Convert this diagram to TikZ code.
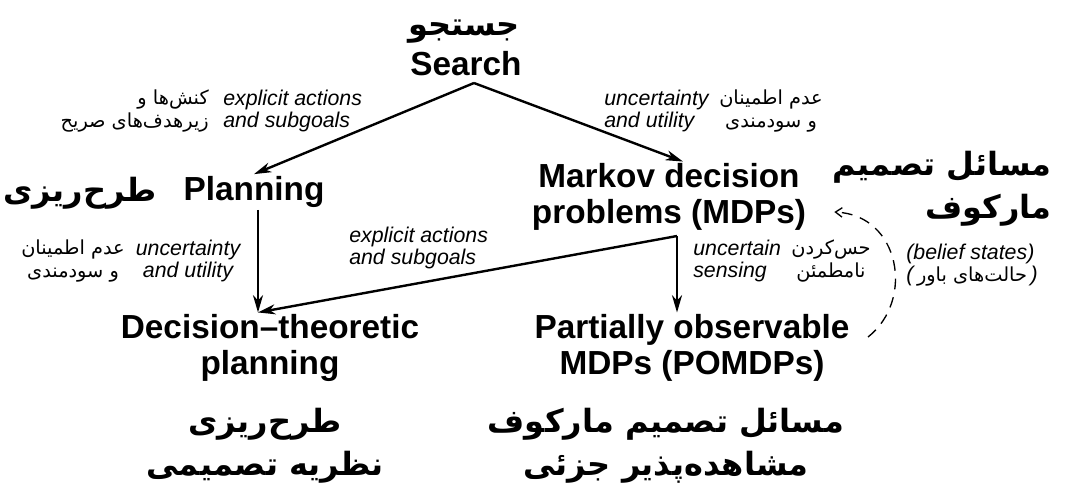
\documentclass[tikz,border=0pt]{standalone}
\usepackage{fontspec}
\setmainfont{Liberation Sans}
\newfontfamily\fa[Script=Arabic]{DejaVu Sans}
\TeXXeTstate=1
\usetikzlibrary{arrows.meta,calc}
\newcommand\farl[1]{\beginR#1\endR}
\begin{document}
\begin{tikzpicture}[x=0.75pt,y=-0.75pt,
  every node/.style={inner sep=1.5pt},
  title/.style={font=\fontsize{25}{26.5}\selectfont\bfseries, align=center},
  fatitle/.style={font=\fa\bfseries\fontsize{24}{32}\selectfont, align=center},
  lbl/.style={font=\itshape\fontsize{16}{16.5}\selectfont},
  falbl/.style={font=\fa\fontsize{14.5}{17}\selectfont},
  arr/.style={line width=1.8pt, -{Stealth[length=13pt,width=7.5pt,inset=4pt]}},
  fb/.style={line width=1pt, dash pattern=on 8pt off 6pt,
    -{Straight Barb[length=5pt,width=7pt]}}]
\useasboundingbox (0,0) rectangle (1066,490);

% top
\node[fatitle] (searchfa) at (464,32) {\farl{جستجو}};
\node[title] (search) at (466,64) {Search};

% edge labels, upper level
\node[lbl, anchor=west, align=left] (xa1) at (221,111) {explicit actions\\and subgoals};
\node[falbl, anchor=east, align=right] (xa1fa) at (211,111) {\farl{کنش‌ها و}\\\farl{زیرهدف‌های صریح}};
\node[lbl, anchor=west, align=left] (uu1) at (602,111) {uncertainty\\and utility};
\node[falbl, align=center] (uu1fa) at (771,111) {\farl{عدم اطمینان}\\\farl{و سودمندی}};

% middle level
\node[fatitle] (planfa) at (80,193) {\farl{طرح‌ریزی}};
\node[title] (plan) at (254,192) {Planning};
\node[title] (mdp) at (669,197) {Markov decision\\problems (MDPs)};
\node[fatitle, anchor=east, align=right] (mdpfa) at (1054,189) {\farl{مسائل تصمیم}\\\farl{مارکوف}};
\node[lbl, align=left] (belief) at (972,265)
  {(belief states)\\(\,{\fa\upshape\fontsize{14.5}{17}\selectfont\farl{حالت‌های باور}}\,)};

% edge labels, lower level
\node[lbl, align=center] (uu2) at (188,261) {uncertainty\\and utility};
\node[falbl, align=center] (uu2fa) at (73,261) {\farl{عدم اطمینان}\\\farl{و سودمندی}};
\node[lbl, anchor=west, align=left] (xa2) at (347,248) {explicit actions\\and subgoals};
\node[lbl, anchor=west, align=left] (sense) at (691,261) {uncertain\\sensing};
\node[falbl, align=center] (sensefa) at (831,261) {\farl{حس‌کردن}\\\farl{نامطمئن}};

% bottom level
\node[title] (dt) at (270,348) {Decision–theoretic\\planning};
\node[title] (pomdp) at (692,348) {Partially observable\\MDPs (POMDPs)};
\node[fatitle] (dtfa) at (265,446) {\farl{طرح‌ریزی}\\\farl{نظریه تصمیمی}};
\node[fatitle] (pomdpfa) at (666,446) {\farl{مسائل تصمیم مارکوف}\\\farl{مشاهده‌پذیر جزئی}};

% connectors
\coordinate (fork) at (474,83);
\coordinate (pl) at ($(plan.south)+(4,0)$);
\coordinate (dtTop) at (pl |- dt.north);
\coordinate (mfoot) at (677,236);
\coordinate (dA) at (868,337);
\coordinate (dB) at ($(mdp.east)+(26,15)$);

\draw[arr] (fork) -- (plan.north);
\draw[arr] (fork) -- ($(mdp.north)+(14,0)$);
\draw[arr] (pl) -- (dtTop);
\draw[arr] (mfoot) -- (dtTop);
\draw[arr] (mfoot) -- (mfoot |- pomdp.north);
\draw[fb] (dA) .. controls (915,300) and (900,215) .. (dB);
\end{tikzpicture}
\end{document}
